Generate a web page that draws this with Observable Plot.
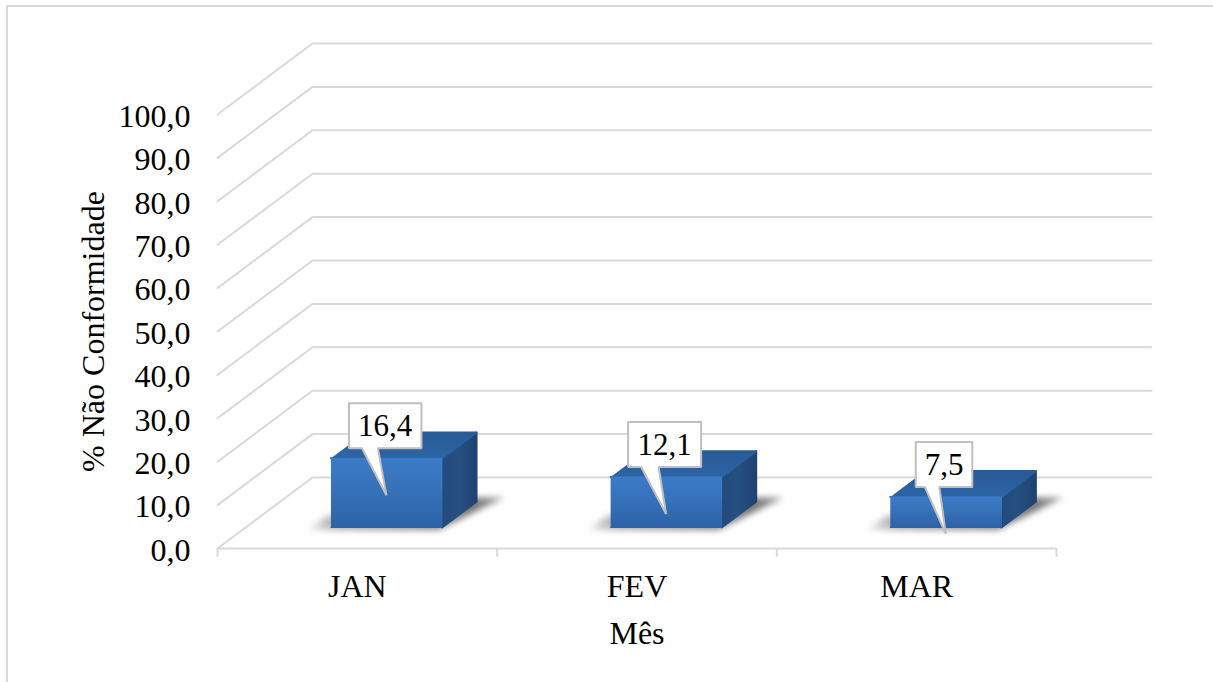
<!DOCTYPE html>
<html lang="pt">
<head>
<meta charset="utf-8">
<script src="https://cdn.jsdelivr.net/npm/d3@7"></script>
<script src="https://cdn.jsdelivr.net/npm/@observablehq/plot@0.6"></script>
<style>
html,body{margin:0;padding:0;background:#fff;overflow:hidden;width:1213px;height:682px}
#frame{position:absolute;left:6px;top:5px;width:1300px;height:800px;border-left:2px solid #d9d9d9;border-top:2px solid #d9d9d9;pointer-events:none}
#chart{position:absolute;left:0;top:0}
svg{display:block}
</style>
</head>
<body>
<div id="chart"></div>
<div id="frame"></div>
<script>
const months = ["JAN", "FEV", "MAR"];
const values = [16.4, 12.1, 7.5];
const labels = ["16,4", "12,1", "7,5"];
const yTicks = [0, 10, 20, 30, 40, 50, 60, 70, 80, 90, 100];
const catEdges = [0, 1, 2, 3];

// 3D projection (layout, in scale units)
const pxX = 1 / 279.67, pxY = 1 / 4.34;
const depthX = 95 * pxX, depthY = 71 * pxY;
const P = (cat, v, d) => ({x: cat + d * depthX, y: v + d * depthY});
const barW = 111 * pxX, d0 = 0.296, d1 = 0.66, bevel = 2 * pxY;

const grid = yTicks.flatMap(v => [P(0, v, 0), P(0, v, 1), P(3, v, 1)].map(p => ({...p, v})));

const bars = values.map((v, i) => {
  const c = i + 0.5 + pxX, l = c - barW / 2, r = c + barW / 2;
  return {i, v: v - bevel, c, l, r};
});
const poly = f => bars.flatMap(b => f(b).map(p => ({...p, i: b.i})));
const front = poly(b => [P(b.l,0,d0), P(b.r,0,d0), P(b.r,b.v,d0), P(b.l,b.v,d0)]);
const top_ = poly(b => [P(b.l,b.v,d0), P(b.r,b.v,d0), P(b.r,b.v,d1), P(b.l,b.v,d1)]);
const side = poly(b => [P(b.r,0,d0), P(b.r,0,d1), P(b.r,b.v,d1), P(b.r,b.v,d0)]);
const shadow = poly(b => [
  P(b.l - 20 * pxX, 0, d0 - 0.035), P(b.r, 0, d0 - 0.035),
  P(b.r + 22 * pxX, 0, d1 + 0.06), P(b.r - 10 * pxX, 0, d1 + 0.06),
  P(b.l - 20 * pxX, 0, d0 + 0.16)
]);

// callouts, offsets relative to each bar's top-centre
const boxHalf = [[-37.5, 35], [-38, 35], [-30, 26.5]];
const baseHalf = [[-24.5, -8.5], [-25, -7.5], [-21, -6.5]];
const callout = poly(b => {
  const o = P(b.c, b.v, d0);
  const q = (dx, dy) => ({x: o.x + dx * pxX, y: o.y - dy * pxY});
  const [a, e] = boxHalf[b.i], [s, t] = baseHalf[b.i];
  return [q(a,-55), q(e,-55), q(e,-10), q(t,-10), q(0,37), q(s,-10), q(a,-10), q(a,-55)];
});
const calloutText = bars.map(b => {
  const o = P(b.c, b.v, d0), [a, e] = boxHalf[b.i];
  return {x: o.x + (a + e) / 2 * pxX, y: o.y + 32 * pxY, label: labels[b.i]};
});

const fmt = d => d.toFixed(1).replace(".", ",");
const defs = () => {
  const s = d3.create("svg:defs");
  const grad = (id, x2, y2, stops) => {
    const g = s.append("linearGradient").attr("id", id).attr("x1", 0).attr("y1", 0).attr("x2", x2).attr("y2", y2);
    stops.forEach(([o, c]) => g.append("stop").attr("offset", o).attr("stop-color", c));
  };
  grad("gFront", 0, 1, [[0, "#3c7bc8"], [0.35, "#3874bd"], [1, "#2d62a6"]]);
  grad("gSide", 1, 0, [[0, "#234a7d"], [0.5, "#25507f"], [1, "#1f4272"]]);
  grad("gTop", 0, 1, [[0, "#285a96"], [1, "#2c65a6"]]);
  grad("gShadow", 1, 0, [[0, "#eeeeee"], [0.15, "#aaaaaa"], [0.85, "#777777"], [1, "#a0a0a0"]]);
  return s.node();
};

const chart = Plot.plot({
  width: 1213, height: 682,
  marginLeft: 217, marginRight: 62, marginTop: 43, marginBottom: 134,
  style: {background: "transparent", fontFamily: "'Liberation Serif','Times New Roman',serif", overflow: "visible"},
  x: {domain: [0, 3 + depthX]},
  y: {domain: [0, 100 + depthY]},
  marks: [
    defs,
    Plot.line(grid, {x: "x", y: "y", z: "v", stroke: "#d9d9d9", strokeWidth: 2}),
    Plot.ruleY([0], {x1: 0, x2: 3, stroke: "#d9d9d9", strokeWidth: 2}),
    Plot.ruleX(catEdges, {y1: 0, y2: -2, stroke: "#d9d9d9", strokeWidth: 2}),
    Plot.line(shadow, {x: "x", y: "y", z: "i", fill: "url(#gShadow)", stroke: "none", imageFilter: "blur(3px)"}),
    Plot.line(side, {x: "x", y: "y", z: "i", fill: "url(#gSide)", stroke: "url(#gSide)", strokeWidth: 2, strokeLinejoin: "round"}),
    Plot.line(top_, {x: "x", y: "y", z: "i", fill: "url(#gTop)", stroke: "url(#gTop)", strokeWidth: 2, strokeLinejoin: "round"}),
    Plot.line(front, {x: "x", y: "y", z: "i", fill: "url(#gFront)", stroke: "url(#gFront)", strokeWidth: 1, strokeLinejoin: "round"}),
    Plot.line(callout, {x: "x", y: "y", z: "i", fill: "#fff", stroke: "#bfbfbf", strokeWidth: 2, strokeLinejoin: "miter"}),
    Plot.text(calloutText, {x: "x", y: "y", text: "label", fontSize: 31, fill: "#000"}),
    Plot.axisY({ticks: yTicks, tickFormat: fmt, tickSize: 0, tickPadding: 27, fontSize: 32, label: null, fill: "#000", dy: 2}),
    Plot.axisX({ticks: [0.5, 1.5, 2.5], tickFormat: v => months[Math.floor(v)], tickSize: 0, tickPadding: 26, fontSize: 32, label: null, fill: "#000"}),
    Plot.text(["% Não Conformidade"], {x: 0, y: 50, dx: -124, rotate: -90, fontSize: 32, fill: "#000", text: d => d}),
    Plot.text(["Mês"], {x: 1.5, y: 0, dy: 85, fontSize: 32, fill: "#000", text: d => d})
  ]
});
document.getElementById("chart").appendChild(chart);
</script>
</body>
</html>
